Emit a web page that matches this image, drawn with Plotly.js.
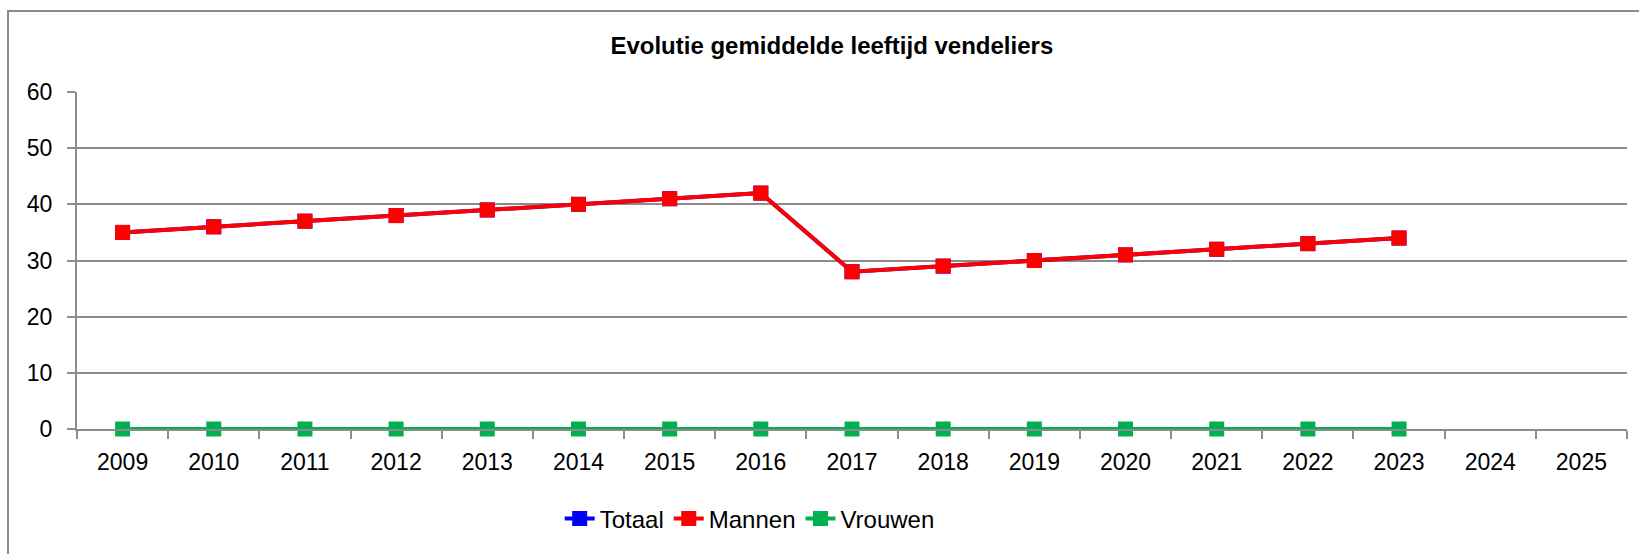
<!DOCTYPE html>
<html>
<head>
<meta charset="utf-8">
<script src="https://cdn.plot.ly/plotly-3.0.1.min.js"></script>
<style>
  html, body { margin: 0; padding: 0; background: #fff; }
  #wrap { position: relative; width: 1639px; height: 554px; overflow: hidden; }
  #frame { position: absolute; left: 7px; top: 10px; width: 1700px; height: 700px;
           border: 2px solid #8c8c8c; box-sizing: border-box; pointer-events: none; }
  #chart { position: absolute; left: 0; top: 0; width: 1639px; height: 554px; }
</style>
</head>
<body>
<div id="wrap">
  <div id="frame"></div>
  <div id="chart"></div>
</div>
<script>
const years = ['2009','2010','2011','2012','2013','2014','2015','2016','2017','2018','2019','2020','2021','2022','2023','2024','2025'];
const dataYears = ['2009','2010','2011','2012','2013','2014','2015','2016','2017','2018','2019','2020','2021','2022','2023'];
const totaal = [35,36,37,38,39,40,41,42,28,29,30,31,32,33,34];
const mannen = [35,36,37,38,39,40,41,42,28,29,30,31,32,33,34];
const vrouwen = [0,0,0,0,0,0,0,0,0,0,0,0,0,0,0];
const yTicks = [0,10,20,30,40,50,60];

function series(name, ys, color) {
  return {
    type: 'scatter', mode: 'lines+markers', name: name,
    x: dataYears, y: ys,
    line: {color: color, width: 4},
    marker: {symbol: 'square', size: 15, color: color},
    cliponaxis: false
  };
}

const traces = [
  series('Totaal', totaal, '#0000ff'),
  series('Mannen', mannen, '#ff0000'),
  series('Vrouwen', vrouwen, '#00b050')
];

const layout = {
  width: 1639, height: 554,
  margin: {l: 77, r: 12, t: 92, b: 125, pad: 0},
  paper_bgcolor: 'rgba(0,0,0,0)',
  plot_bgcolor: 'rgba(0,0,0,0)',
  showlegend: true,
  title: {
    text: '<b>Evolutie gemiddelde leeftijd vendeliers</b>',
    font: {family: 'Liberation Sans, Arial, sans-serif', size: 24, color: '#000'},
    xref: 'paper', x: 0.487, xanchor: 'center',
    yref: 'container', y: 1 - 46/554, yanchor: 'middle'
  },
  xaxis: {
    type: 'category',
    categoryorder: 'array', categoryarray: years,
    range: [-0.5, 16.5],
    tickson: 'boundaries',
    ticks: 'outside', ticklen: 8, tickwidth: 2, tickcolor: '#8c8c8c',
    showline: true, linecolor: '#8c8c8c', linewidth: 2,
    showgrid: false, zeroline: false,
    tickfont: {family: 'Liberation Sans, Arial, sans-serif', size: 23, color: '#000'},
    ticklabelstandoff: 11,
    fixedrange: true
  },
  yaxis: {
    range: [0, 60],
    tickvals: yTicks, ticktext: yTicks.map(String),
    ticks: 'outside', ticklen: 8, tickwidth: 2, tickcolor: '#8c8c8c',
    showline: true, linecolor: '#8c8c8c', linewidth: 2,
    showgrid: true, gridcolor: '#8c8c8c', gridwidth: 2,
    zeroline: false,
    tickfont: {family: 'Liberation Sans, Arial, sans-serif', size: 23, color: '#000'},
    ticklabelstandoff: 10,
    fixedrange: true
  },
  legend: {
    orientation: 'h',
    xref: 'paper', x: 0.434, xanchor: 'center',
    yref: 'container', y: 1 - 519/554, yanchor: 'middle',
    font: {family: 'Liberation Sans, Arial, sans-serif', size: 24, color: '#000'},
    itemsizing: 'trace',
    tracegroupgap: 0,
    bgcolor: 'rgba(0,0,0,0)'
  }
};

Plotly.newPlot('chart', traces, layout, {displayModeBar: false, staticPlot: true});
</script>
</body>
</html>
